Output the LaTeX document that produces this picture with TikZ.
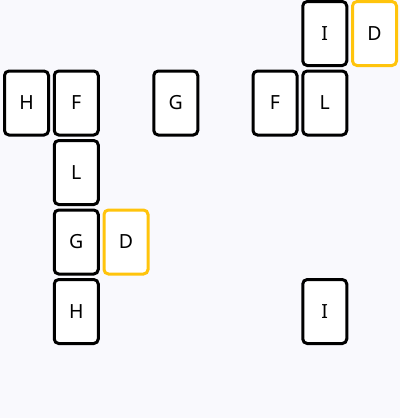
\documentclass[tikz,border=0pt]{standalone}
\usepackage{fontspec}
\setmainfont{Noto Sans}
\definecolor{bgc}{HTML}{F9F9FD}
\definecolor{amber}{HTML}{FFC40C}
\tikzset{
  card/.style={draw=black, fill=white, line width=3pt, rounded corners=4.5pt,
    minimum width=44pt, minimum height=64pt, inner sep=0pt,
    font=\fontsize{19.5pt}{19.5pt}\selectfont},
  goldcard/.style={card, draw=amber}
}
\begin{document}
\begin{tikzpicture}[x=1pt,y=-1pt]
\fill[bgc] (0,0) rectangle (400,418);
\useasboundingbox (0,0) rectangle (400,418);
\node[card] (I1) at (324.75,33.5) {I};
\node[goldcard] (D1) at (374.5,33.5) {D};
\node[card] (H1) at (26.5,103) {H};
\node[card] (F1) at (76.25,103) {F};
\node[card] (G1) at (175.75,103) {G};
\node[card] (F2) at (275,103) {F};
\node[card] (L2) at (324.75,103) {L};
\node[card] (L1) at (76.25,172.5) {L};
\node[card] (G2) at (76.25,242) {G};
\node[goldcard] (D2) at (126,242) {D};
\node[card] (H2) at (76.25,311.5) {H};
\node[card] (I2) at (324.75,311.5) {I};
\end{tikzpicture}
\end{document}
